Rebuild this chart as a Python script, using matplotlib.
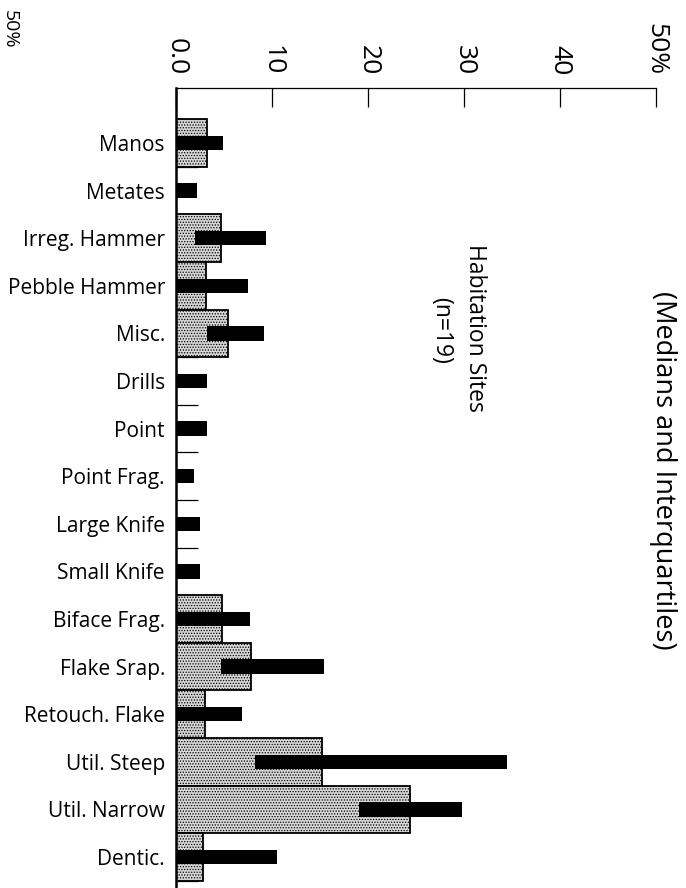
import numpy as np
import matplotlib.pyplot as plt

# habitation sites, percentages of the tool assemblage
categories = ['Manos', 'Metates', 'Irreg. Hammer', 'Pebble Hammer', 'Misc.',
              'Drills', 'Point', 'Point Frag.', 'Large Knife', 'Small Knife',
              'Biface Frag.', 'Flake Srap.', 'Retouch. Flake', 'Util. Steep',
              'Util. Narrow', 'Dentic.']
medians = [3.2, 0, 4.7, 3.1, 5.4, 0, 0, 0, 0, 0, 4.8, 7.8, 3.0, 15.2, 24.4, 2.8]
q1 = [0, 0, 2.0, 0, 3.2, 0, 0, 0, 0, 0, 0, 4.7, 0, 8.2, 19.1, 0]
q3 = [4.9, 2.2, 9.4, 7.5, 9.2, 3.2, 3.2, 1.9, 2.5, 2.5, 7.7, 15.4, 6.9, 34.5, 29.8, 10.5]

ticks = [0, 10, 20, 30, 40, 50]
tick_labels = ['0.0', '10', '20', '30', '40', '50%']

plt.rcParams['font.family'] = ['Open Sans', 'DejaVu Sans']
plt.rcParams['hatch.linewidth'] = 0.6

fig = plt.figure(figsize=(6.86, 8.88), dpi=100)
ax = fig.add_axes([176/686, 0, 480/686, 800/888])

y = np.arange(len(categories))
ax.barh(y, medians, height=1.0, color='#d6d6d6', edgecolor='black',
        linewidth=1.3, hatch='......', zorder=2)
ax.barh(y, np.array(q3) - np.array(q1), left=q1, height=0.3,
        color='black', zorder=3)

ax.set_xlim(0, 50)
ax.set_ylim(15.65, -1.155)

# value axis along the top, labels turned like the page
ax.xaxis.tick_top()
ax.set_xticks(ticks, tick_labels)
ax.tick_params(axis='x', direction='in', length=14, width=0.9, pad=9,
               labelsize=19, labelrotation=-90)

ax.set_yticks(y, categories)
ax.set_yticks(np.arange(len(categories) + 1) - 0.5, minor=True)
ax.tick_params(axis='y', which='major', length=0, pad=8, labelsize=15)
ax.tick_params(axis='y', which='minor', direction='in', length=16, width=0.9)

ax.spines['right'].set_visible(False)
ax.spines['bottom'].set_visible(False)
ax.spines['left'].set_linewidth(1.8)
ax.spines['top'].set_linewidth(0.9)

fig.text(663/686, 1 - 470/888, '(Medians and Interquartiles)', rotation=-90,
         ha='center', va='center', fontsize=19.5)
fig.text(475/686, 1 - 328/888, 'Habitation Sites', rotation=-90,
         ha='center', va='center', fontsize=16.5)
fig.text(441/686, 1 - 330/888, '(n=19)', rotation=-90,
         ha='center', va='center', fontsize=16.5)
# bit of the neighbouring figure left on the scan
fig.text(1/686, 1 - 10/888, '50%', rotation=-90,
         ha='left', va='top', fontsize=14)

fig.savefig('out.png', dpi=100)
